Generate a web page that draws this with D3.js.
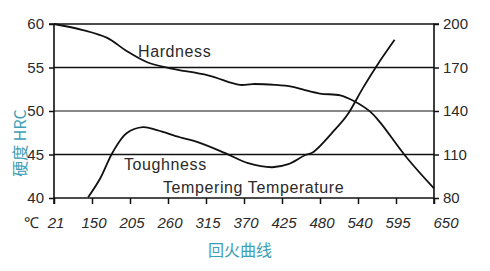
<!DOCTYPE html>
<html>
<head>
<meta charset="utf-8">
<script src="https://cdn.jsdelivr.net/npm/d3@7"></script>
<style>
  body { margin: 0; background: #fff; }
  text { font-family: "Liberation Sans", Arial, sans-serif; }
</style>
</head>
<body>
<svg id="canvas" width="490" height="271"></svg>
<script>
// tick temperatures, evenly spaced on the axis
var temps = [21, 150, 205, 260, 315, 370, 425, 480, 540, 595, 650];
var hrcTicks = [40, 45, 50, 55, 60];
var toughTicks = [80, 110, 140, 170, 200];

// hardness (HRC)
var hardTemp = [21, 119, 172, 200, 230, 263, 318, 364, 382, 415, 439, 458, 480, 512, 532, 558, 572, 611, 650];
var hardVal  = [60, 59.3, 58.4, 56.9, 55.6, 54.9, 54.1, 53.0, 53.1, 53.0, 52.8, 52.4, 52.0, 51.8, 51.2, 49.9, 48.7, 44.6, 41.1];

// toughness (right axis)
var toughTemp = [137, 162, 180, 200, 224, 244, 277, 303, 343, 376, 411, 434, 458, 470, 500, 523, 547, 568, 593];
var toughVal  = [80.5, 93.6, 111.6, 124.7, 128.9, 126.8, 121.9, 118.5, 110.9, 104, 101.2, 103.3, 109.5, 111.6, 125.4, 137.2, 155.8, 171.8, 189.1];

var svg = d3.select("#canvas"),
  pL = 54, pR = 434, pT = 24, pB = 198;

var x = d3.scaleLinear()
  .domain(temps)
  .range(temps.map(function(d, i) { return pL + i * (pR - pL) / (temps.length - 1); }));

var yL = d3.scaleLinear().domain([40, 60]).range([pB, pT]);
var yR = d3.scaleLinear().domain([80, 200]).range([pB, pT]);

// grid lines
svg.append("g").selectAll("line")
  .data(hrcTicks.slice(1))
  .enter().append("line")
  .attr("x1", pL).attr("x2", pR)
  .attr("y1", function(d) { return yL(d); })
  .attr("y2", function(d) { return yL(d); })
  .attr("stroke", "#111")
  .attr("stroke-width", function(d) { return d == 50 ? 1 : 1.6; });

// axes
var axL = d3.axisLeft(yL).tickValues(hrcTicks).tickSize(5).tickPadding(5);
var axR = d3.axisRight(yR).tickValues(toughTicks).tickSize(5).tickPadding(4);
var axB = d3.axisBottom(x).tickValues(temps).tickSize(6).tickFormat(function() { return ""; });

var gl = svg.append("g").attr("transform", "translate(" + pL + ",0)").call(axL);
var gr = svg.append("g").attr("transform", "translate(" + pR + ",0)").call(axR);
var gb = svg.append("g").attr("transform", "translate(0," + pB + ")").call(axB);

[gl, gr, gb].forEach(function(g) {
  g.select(".domain").attr("stroke", "#111").attr("stroke-width", 1.6);
  g.selectAll(".tick line").attr("stroke", "#111").attr("stroke-width", 1.5);
  g.selectAll(".tick text").attr("fill", "#2a2a2a").style("font-size", "15px")
    .style("font-family", "Liberation Sans, Arial, sans-serif");
});
gb.select(".domain").attr("d", "M" + pL + ",0H" + pR);
gl.select(".domain").attr("d", "M-5," + pT + "H0V" + (pB + 6));
gr.select(".domain").attr("d", "M5," + pT + "H0V" + (pB + 6));

// x labels
svg.append("g").selectAll("text")
  .data(temps)
  .enter().append("text")
  .attr("x", function(d, i) { return x(d) + (i == temps.length - 1 ? 12 : 2); })
  .attr("y", 228)
  .attr("text-anchor", "middle")
  .attr("fill", "#2a2a2a")
  .style("font-size", "15px")
  .style("font-style", "italic")
  .text(function(d) { return d; });

svg.append("text")
  .attr("x", 31).attr("y", 228)
  .attr("text-anchor", "middle")
  .attr("fill", "#2a2a2a")
  .style("font-size", "15px")
  .text("℃");

// curves
var hardLine = d3.line()
  .x(function(d) { return x(d[0]); })
  .y(function(d) { return yL(d[1]); })
  .curve(d3.curveCatmullRom.alpha(0.5));

var toughLine = d3.line()
  .x(function(d) { return x(d[0]); })
  .y(function(d) { return yR(d[1]); })
  .curve(d3.curveCatmullRom.alpha(0.5));

svg.append("path")
  .attr("d", hardLine(d3.zip(hardTemp, hardVal)))
  .attr("fill", "none").attr("stroke", "#111").attr("stroke-width", 1.8);

svg.append("path")
  .attr("d", toughLine(d3.zip(toughTemp, toughVal)))
  .attr("fill", "none").attr("stroke", "#111").attr("stroke-width", 1.8);

// in-plot labels
function label(tx, ty, s) {
  svg.append("text").attr("x", tx).attr("y", ty)
    .attr("fill", "#2a2a2a")
    .style("font-size", "16px")
    .style("letter-spacing", "0.6px")
    .text(s);
}
label(138, 57, "Hardness");
label(124, 170, "Toughness");
label(163, 193, "Tempering Temperature");

// axis titles
svg.append("text")
  .attr("transform", "translate(26,143) rotate(-90)")
  .attr("text-anchor", "middle")
  .attr("fill", "#3d9fb6")
  .style("font-size", "16px")
  .style("font-family", "Noto Sans CJK SC, sans-serif")
  .text("硬度 HRC");

svg.append("text")
  .attr("x", 240).attr("y", 256)
  .attr("text-anchor", "middle")
  .attr("fill", "#3d9fb6")
  .style("font-size", "16px")
  .style("font-family", "Noto Sans CJK SC, sans-serif")
  .text("回火曲线");
</script>
</body>
</html>
